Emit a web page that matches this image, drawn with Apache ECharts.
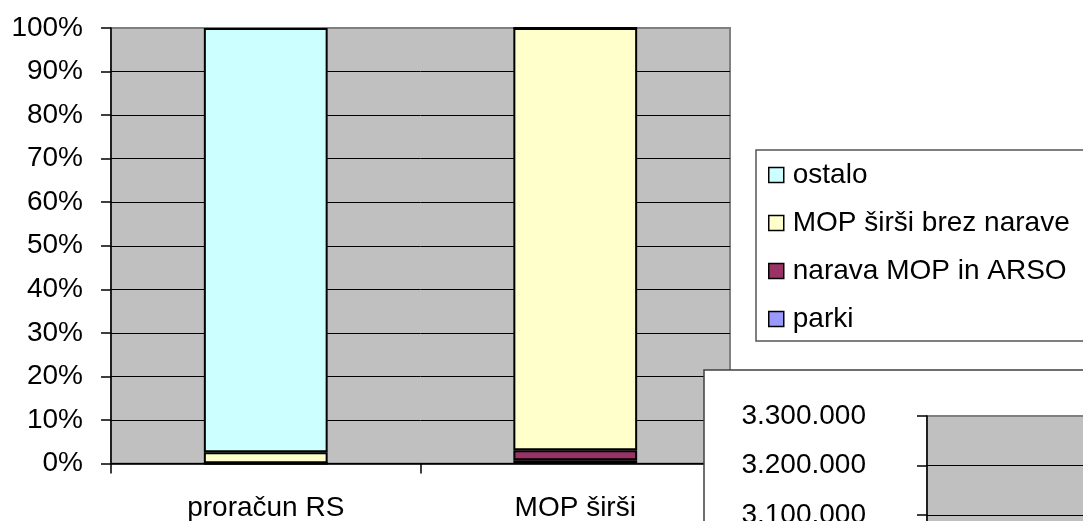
<!DOCTYPE html>
<html>
<head>
<meta charset="utf-8">
<script src="https://cdn.jsdelivr.net/npm/echarts@6/dist/echarts.min.js"></script>
<style>
html,body{margin:0;padding:0;background:#fff;}
#c{width:1083px;height:521px;}
</style>
</head>
<body>
<div id="c"></div>
<script>
// Data (percent shares)
const categories = ['proračun RS', 'MOP širši'];
const parki = [0.02, 0.76];
const narava = [0.06, 2.3];
const mopBrezNarave = [2.5, 96.94];
const ostalo = [97.42, 0];
const legendOrder = ['ostalo', 'MOP širši brez narave', 'narava MOP in ARSO', 'parki'];
const yTicksPct = [0, 10, 20, 30, 40, 50, 60, 70, 80, 90, 100];
// Second (partially visible) chart axis
const axis2Min = 2700000, axis2Max = 3300000, axis2Step = 100000;

const FONT = "'Liberation Sans', Arial, sans-serif";
const fmtDots = v => String(Math.round(v)).replace(/\B(?=(\d{3})+(?!\d))/g, '.');

const chart = echarts.init(document.getElementById('c'), null, {renderer: 'canvas'});

const barStyle = c => ({color: c, borderColor: '#000', borderWidth: 2});
const mk = (name, data, color) => ({
  name, type: 'bar', stack: 'total', data, barWidth: '40%',
  xAxisIndex: 0, yAxisIndex: 0,
  itemStyle: barStyle(color), emphasis: {disabled: true}
});

chart.setOption({
  animation: false,
  backgroundColor: '#fff',
  textStyle: {fontFamily: FONT},
  grid: [
    {left: 111, right: 353, top: 28, bottom: 57.5, show: true, backgroundColor: '#c0c0c0',
     borderColor: '#808080', borderWidth: 2, containLabel: false, outerBoundsMode: 'none', z: 0},
    {left: 927, top: 416, width: 400, height: 297, show: true, backgroundColor: '#c0c0c0',
     borderColor: '#808080', borderWidth: 2, containLabel: false, outerBoundsMode: 'none', z: 11}
  ],
  legend: {
    orient: 'vertical', left: 756, top: 150,
    data: legendOrder,
    itemWidth: 15, itemHeight: 15, itemGap: 20,
    padding: [11, 200, 8, 12],
    borderColor: '#555', borderWidth: 1.5,
    icon: 'rect',
    itemStyle: {borderColor: '#000', borderWidth: 1.5},
    textStyle: {fontSize: 28, color: '#000', fontFamily: FONT, padding: [0, 0, 0, 4]},
    selectedMode: false
  },
  xAxis: [
    {type: 'category', gridIndex: 0, data: categories, boundaryGap: true,
     axisLine: {show: true, lineStyle: {color: '#000', width: 1.5}},
     axisTick: {show: true, length: 10, inside: false, lineStyle: {color: '#000', width: 1.5}},
     axisLabel: {fontSize: 28, color: '#000', margin: 31, fontFamily: FONT},
     splitLine: {show: false}},
    {type: 'category', gridIndex: 1, data: [], show: false}
  ],
  yAxis: [
    {type: 'value', gridIndex: 0, min: 0, max: 100, interval: 10,
     axisLine: {show: true, lineStyle: {color: '#000', width: 1.5}},
     axisTick: {show: true, length: 10, lineStyle: {color: '#000', width: 1.5}},
     axisLabel: {fontSize: 28, color: '#000', margin: 28, fontFamily: FONT,
                 formatter: v => (yTicksPct.includes(v) ? v + '%' : '')},
     splitLine: {show: true, showMaxLine: false, lineStyle: {color: '#000', width: 1}}},
    {type: 'value', gridIndex: 1, min: axis2Min, max: axis2Max, interval: axis2Step, z: 12,
     axisLine: {show: true, lineStyle: {color: '#000', width: 1.5}},
     axisTick: {show: true, length: 10, lineStyle: {color: '#000', width: 1.5}},
     axisLabel: {fontSize: 28, color: '#000', margin: 61, fontFamily: FONT, formatter: fmtDots},
     splitLine: {show: true, showMaxLine: false, lineStyle: {color: '#000', width: 1}}}
  ],
  graphic: [
    {type: 'rect', z: 10, shape: {x: 704, y: 370, width: 600, height: 400},
     style: {fill: '#fff', stroke: '#404040', lineWidth: 1.5}, silent: true}
  ],
  series: [
    mk('parki', parki, '#9999ff'),
    mk('narava MOP in ARSO', narava, '#993366'),
    mk('MOP širši brez narave', mopBrezNarave, '#ffffcc'),
    mk('ostalo', ostalo, '#ccffff')
  ]
});
</script>
</body>
</html>
